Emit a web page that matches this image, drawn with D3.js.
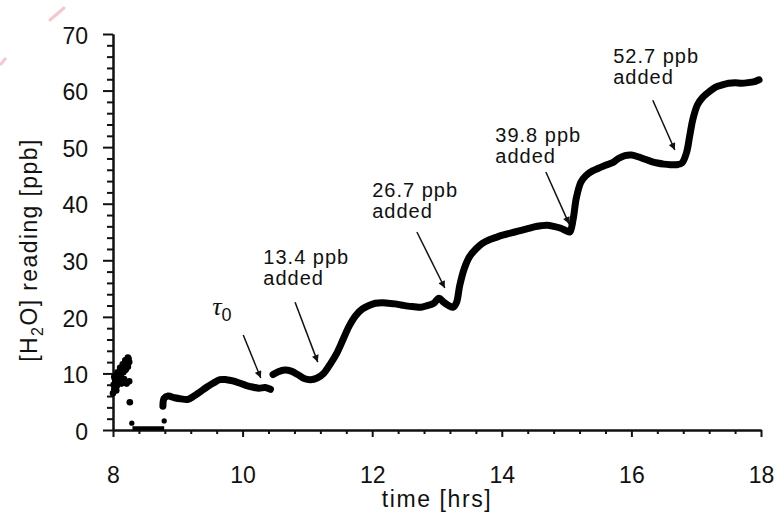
<!DOCTYPE html>
<html>
<head>
<meta charset="utf-8">
<script src="https://cdn.jsdelivr.net/npm/d3@7"></script>
<style>
  html, body { margin: 0; padding: 0; background: #fff; }
  svg { display: block; }
  text { font-family: "Liberation Sans", Arial, sans-serif; fill: #111; }
</style>
</head>
<body>
<svg id="chart" width="775" height="516"></svg>
<script>
// ---------- data ----------
// noisy start-up readings (hrs, ppb)
const startT = [8.00,8.01,8.02,8.02,8.03,8.04,8.05,8.05,8.06,8.07,8.08,8.09,8.10,8.11,8.12,8.13,8.14,8.15,8.16,8.17,8.18,8.19,8.20,8.21,8.22,8.23,8.24,8.25,8.25,8.26,8.03,8.07,8.11,8.15,8.19,8.23];
const startV = [6.5,8.0,7.2,9.4,9.0,8.4,9.6,7.0,7.8,10.2,9.0,8.6,10.0,11.0,9.4,8.2,10.6,11.6,10.2,9.0,11.8,12.3,10.8,8.2,12.0,11.2,12.6,12.0,8.6,4.9,7.6,8.8,9.6,10.4,10.6,12.8];
// isolated readings around the zero stretch
const loneT = [8.29, 8.79];
const loneV = [1.2, 1.6];
// readings resting at zero
const zeroT = [8.30,8.35,8.40,8.45,8.50,8.55,8.60,8.65,8.70,8.75,8.79];
const zeroV = [0.3,0.3,0.3,0.3,0.3,0.3,0.3,0.3,0.3,0.3,0.3];
// first continuous segment
const seg1T = [8.77,8.79,8.85,8.95,9.05,9.15,9.25,9.35,9.45,9.55,9.65,9.75,9.85,9.95,10.05,10.15,10.25,10.35,10.43];
const seg1V = [4.2,5.6,6.0,5.7,5.5,5.4,6.0,6.8,7.6,8.3,8.9,8.9,8.7,8.3,7.9,7.6,7.4,7.5,7.2];
// second continuous segment
const seg2T = [10.47,10.55,10.65,10.75,10.85,10.95,11.05,11.15,11.25,11.35,11.45,11.55,11.65,11.75,11.85,11.95,
  12.05,12.15,12.25,12.35,12.45,12.55,12.65,12.75,12.85,12.95,13.03,13.10,13.18,13.25,13.30,13.35,13.42,13.50,13.60,13.70,13.80,13.90,
  14.00,14.10,14.20,14.30,14.40,14.50,14.60,14.70,14.80,14.90,15.00,15.05,15.10,15.15,15.22,15.30,15.40,15.50,15.60,15.70,15.80,15.90,
  16.00,16.10,16.20,16.30,16.40,16.50,16.60,16.70,16.78,16.85,16.90,16.95,17.02,17.10,17.20,17.30,17.40,17.50,17.60,17.70,17.80,17.90,17.97];
const seg2V = [9.8,10.3,10.6,10.4,9.8,9.1,8.9,9.2,10.0,11.6,13.5,16.0,18.5,20.3,21.4,22.0,
  22.4,22.5,22.4,22.3,22.1,21.9,21.8,21.7,22.0,22.4,23.3,22.6,22.0,21.7,22.5,25.5,28.5,30.6,32.0,33.0,33.6,34.0,
  34.4,34.7,35.0,35.3,35.6,35.9,36.1,36.2,36.0,35.7,35.2,35.0,37.2,41.0,43.8,45.0,45.8,46.3,46.8,47.2,48.0,48.5,
  48.6,48.3,47.9,47.5,47.2,47.0,46.9,46.9,47.2,49.0,52.0,55.0,57.5,58.8,59.8,60.6,61.0,61.3,61.4,61.3,61.4,61.6,61.9];

// axes
const xMajor = [8, 10, 12, 14, 16, 18];
const xMinor = [8.4,8.8,9.2,9.6,10.4,10.8,11.2,11.6,12.4,12.8,13.2,13.6,14.4,14.8,15.2,15.6,16.4,16.8,17.2,17.6];
const yMajor = [0, 10, 20, 30, 40, 50, 60, 70];
const yMinor = [2,4,6,8,12,14,16,18,22,24,26,28,32,34,36,38,42,44,46,48,52,54,56,58,62,64,66,68];

// annotations: label lines, text anchor (t,v of left edge / first baseline), arrow start and tip (t,v)
const noteLines = [["13.4 ppb","added"],["26.7 ppb","added"],["39.8 ppb","added"],["52.7 ppb","added"]];
const noteAt = [[10.32, 29.3],[12.00, 41.2],[13.90, 50.9],[15.72, 64.9]];
const arrowFrom = [[10.01, 16.8],[10.81, 22.6],[12.69, 35.0],[14.68, 45.6],[16.33, 58.3]];
const arrowTo   = [[10.28, 9.2],[11.16, 12.0],[13.12, 25.1],[15.04, 36.4],[16.67, 49.5]];
const tauAt = [9.53, 20.3]; // τ0 label anchor (t,v)

// ---------- drawing ----------
const svg = d3.select("#chart");
const x = d3.scaleLinear().domain([8, 18]).range([113, 761]);
const y = d3.scaleLinear().domain([0, 70]).range([430, 34]);

// faint pink mark in the top-left corner of the reference
svg.append("line").attr("x1", 64).attr("y1", 8).attr("x2", 50).attr("y2", 20)
  .attr("stroke", "#f7c6cf").attr("stroke-width", 3).attr("stroke-linecap", "round");
svg.append("line").attr("x1", 6).attr("y1", 58).attr("x2", 0).attr("y2", 65)
  .attr("stroke", "#f7c6cf").attr("stroke-width", 3);

function styleAxis(g) {
  g.selectAll("path, line").attr("stroke", "#111").attr("stroke-width", 2);
  g.selectAll("text").attr("font-size", 23).attr("fill", "#111")
    .attr("font-family", "'Liberation Sans', Arial, sans-serif");
}

// x axis
const gx = svg.append("g").attr("transform", `translate(0,${y(0)})`);
gx.append("g").call(d3.axisBottom(x).tickValues(xMinor).tickSize(4).tickSizeOuter(0).tickFormat(""))
  .call(styleAxis);
gx.append("g").call(d3.axisBottom(x).tickValues(xMajor).tickSize(7).tickSizeOuter(0).tickFormat(d3.format("d")))
  .call(styleAxis)
  .call(g => g.selectAll("text").attr("dy", null).attr("y", 53));

// y axis
const gy = svg.append("g").attr("transform", `translate(${x(8)},0)`);
gy.append("g").call(d3.axisLeft(y).tickValues(yMinor).tickSize(6).tickSizeOuter(0).tickFormat(""))
  .call(styleAxis);
gy.append("g").call(d3.axisLeft(y).tickValues(yMajor).tickSize(10).tickSizeOuter(0).tickPadding(15).tickFormat(d3.format("d")))
  .call(styleAxis)
  .call(g => g.selectAll("text").attr("dy", "0.40em"));

// axis titles
svg.append("text").attr("x", 437).attr("y", 507).attr("text-anchor", "middle")
  .attr("font-size", 23).attr("letter-spacing", 1.6).text("time [hrs]");

const yl = svg.append("text").attr("transform", "translate(37,250) rotate(-90)")
  .attr("text-anchor", "middle").attr("font-size", 23).attr("letter-spacing", 1.4);
yl.append("tspan").text("[H");
yl.append("tspan").attr("font-size", 16).attr("dy", 6).text("2");
yl.append("tspan").attr("dy", -6).text("O] reading [ppb]");

// data marks
const pts = (T, V) => T.map((t, i) => [t, V[i]]);
const line = d3.line().x(d => x(d[0])).y(d => y(d[1])).curve(d3.curveCatmullRom.alpha(0.5));

svg.append("g").selectAll("circle").data(pts(startT, startV)).join("circle")
  .attr("cx", d => x(d[0])).attr("cy", d => y(d[1])).attr("r", 3.3).attr("fill", "#000");
svg.append("g").selectAll("circle").data(pts(loneT, loneV)).join("circle")
  .attr("cx", d => x(d[0])).attr("cy", d => y(d[1])).attr("r", 2.6).attr("fill", "#000");
svg.append("path").datum(pts(zeroT, zeroV)).attr("d", d3.line().x(d => x(d[0])).y(d => y(d[1])))
  .attr("fill", "none").attr("stroke", "#000").attr("stroke-width", 4);
[pts(seg1T, seg1V), pts(seg2T, seg2V)].forEach(seg => {
  svg.append("path").datum(seg).attr("d", line)
    .attr("fill", "none").attr("stroke", "#000").attr("stroke-width", 7)
    .attr("stroke-linejoin", "round").attr("stroke-linecap", "round");
});

// arrows
const defs = svg.append("defs");
defs.append("marker").attr("id", "ah").attr("viewBox", "0 0 10 10").attr("refX", 10).attr("refY", 5)
  .attr("markerWidth", 8).attr("markerHeight", 7).attr("markerUnits", "userSpaceOnUse").attr("orient", "auto")
  .append("path").attr("d", "M0,0 L10,5 L0,10 Z").attr("fill", "#111");
arrowFrom.forEach((a, i) => {
  const b = arrowTo[i];
  svg.append("line").attr("x1", x(a[0])).attr("y1", y(a[1])).attr("x2", x(b[0])).attr("y2", y(b[1]))
    .attr("stroke", "#111").attr("stroke-width", 1.5).attr("marker-end", "url(#ah)");
});

// annotation texts
noteLines.forEach((lines, i) => {
  const t = svg.append("text").attr("font-size", 20).attr("letter-spacing", 1)
    .attr("x", x(noteAt[i][0])).attr("y", y(noteAt[i][1]));
  lines.forEach((s, j) => t.append("tspan").attr("x", x(noteAt[i][0])).attr("dy", j === 0 ? 0 : 21).text(s));
});

// tau_0 label
const tau = svg.append("text").attr("x", x(tauAt[0])).attr("y", y(tauAt[1])).attr("font-size", 26);
tau.append("tspan").attr("font-family", "'Liberation Serif', 'DejaVu Serif', serif").attr("font-style", "italic").text("τ");
tau.append("tspan").attr("font-size", 18).attr("dy", 6).text("0");
</script>
</body>
</html>
